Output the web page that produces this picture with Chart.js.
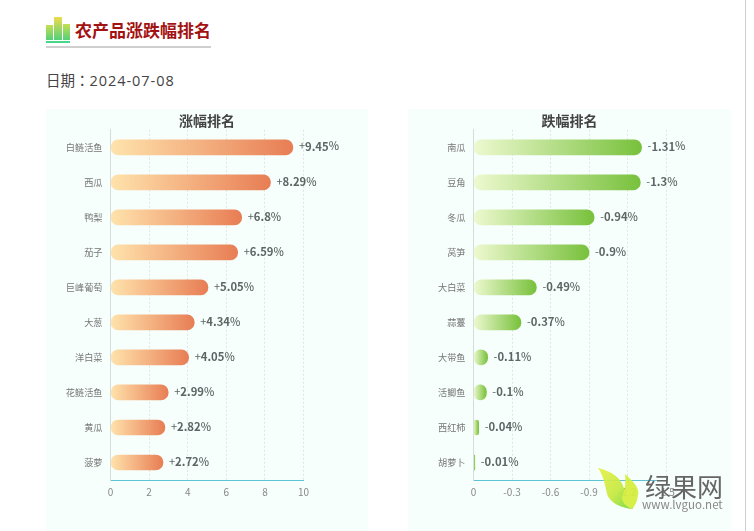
<!DOCTYPE html>
<html><head><meta charset="utf-8">
<script src="https://cdn.jsdelivr.net/npm/chart.js@4"></script>
<style>
html,body{margin:0;padding:0;background:#fff;width:754px;height:531px;overflow:hidden;font-family:"Noto Sans CJK SC",sans-serif}
.abs{position:absolute}
.panel{position:absolute;top:109px;width:322px;height:422px;background:#f6fffc}
</style></head><body>
<div class="abs" style="left:46px;top:17px;width:24px;height:26px">
 <div class="abs" style="left:0;top:8px;width:7px;height:15px;background:linear-gradient(#c4e04f,#55d07a)"></div>
 <div class="abs" style="left:8px;top:0;width:8px;height:23px;background:linear-gradient(#ecdc4f,#55d07a)"></div>
 <div class="abs" style="left:17px;top:7px;width:7px;height:16px;background:linear-gradient(#c4e04f,#55d07a)"></div>
 <div class="abs" style="left:0;top:24px;width:24px;height:2px;background:#45d88a"></div>
</div>
<div class="abs" style="left:75px;top:17px;font-size:17px;font-weight:700;color:#a31212;line-height:26px;white-space:nowrap">农产品涨跌幅排名</div>
<div class="abs" style="left:46px;top:46px;width:165px;height:2px;background:#cfcfcf"></div>
<div class="abs" style="left:46px;top:69px;font-size:14.5px;color:#444;line-height:22px;white-space:nowrap;font-family:'Open Sans','Noto Sans CJK SC',sans-serif"><span style="font-family:'Noto Sans CJK SC'">日期</span><span style="font-family:'Noto Sans CJK TC'">：</span><span style="letter-spacing:.95px">2024-07-08</span></div>
<div class="panel" style="left:46px"></div>
<div class="panel" style="left:408px;width:323px"></div>
<canvas id="up" class="abs" style="left:46px;top:109px"></canvas>
<canvas id="down" class="abs" style="left:408px;top:109px"></canvas>
<div class="abs" style="left:745px;top:0;width:1px;height:531px;background:#cfcfcf"></div>
<svg class="abs" style="left:595px;top:464px;opacity:.93" width="50" height="56" viewBox="0 0 50 56">
 <defs><linearGradient id="lf" x1="0" y1="0" x2="1" y2="1"><stop offset="0" stop-color="#e6f04a"/><stop offset=".55" stop-color="#c6ea40"/><stop offset="1" stop-color="#6fd63f"/></linearGradient></defs>
 <path d="M3 4 C16 7 27 14 29 25 C32 33 36 38 38 45 C26 44 15 39 12 30 C10 20 8 11 3 4Z" fill="url(#lf)"/>
 <path d="M30 10 C38 17 45 24 43 31 C42 38 40 42 37 45 C30 42 27 38 27 33 C30 26 31 18 30 10Z" fill="#d6ee3c"/>
</svg>
<div class="abs" style="left:645px;top:468px;font-size:26px;color:#666;line-height:36px;white-space:nowrap">绿果网</div>
<div class="abs" style="left:642px;top:497px;font-size:11.5px;color:#888;line-height:14px;white-space:nowrap">www.lvguo.net</div>
<script>
const upLabels=["白鲢活鱼","西瓜","鸭梨","茄子","巨峰葡萄","大葱","洋白菜","花鲢活鱼","黄瓜","菠萝"];
const upValues=[9.45,8.29,6.8,6.59,5.05,4.34,4.05,2.99,2.82,2.72];
const upTicks=[0,2,4,6,8,10];
const downLabels=["南瓜","豆角","冬瓜","莴笋","大白菜","蒜薹","大带鱼","活鲫鱼","西红柿","胡萝卜"];
const downValues=[-1.31,-1.3,-0.94,-0.9,-0.49,-0.37,-0.11,-0.1,-0.04,-0.01];
const downTicks=[0,-0.3,-0.6,-0.9,-1.2,-1.5];

const FONT='"Noto Sans CJK SC",sans-serif';
const valueLabels={id:'valueLabels',afterDatasetsDraw(c){
  const ctx=c.ctx,meta=c.getDatasetMeta(0),vals=c.data.datasets[0].data;
  ctx.save();ctx.textBaseline='middle';ctx.textAlign='left';
  meta.data.forEach((el,i)=>{
    const v=vals[i];let x=el.x+6;
    const sign=v>0?'+':'-';
    const num=String(Math.abs(v));
    ctx.fillStyle='#5f6565';
    ctx.font='400 11px '+FONT;
    ctx.fillText(sign,x,el.y-1);x+=ctx.measureText(sign).width;
    ctx.font='700 11.3px '+FONT;
    ctx.fillText(num,x,el.y-1);x+=ctx.measureText(num).width;
    ctx.font='500 11px '+FONT;
    ctx.fillText('%',x,el.y-1);
  });
  ctx.restore();
}};
function build(id,w,leftW,rightW,labels,values,ticks,title,c0,c1,rev,lo,hi){
  const cv=document.getElementById(id);cv.width=w;cv.height=422;
  cv.style.width=w+'px';cv.style.height='422px';
  new Chart(cv,{type:'bar',plugins:[valueLabels],
   data:{labels,datasets:[{data:values,barThickness:15,borderRadius:7.5,borderSkipped:false,
     backgroundColor(ctx){
       const ch=ctx.chart;if(!ch.chartArea||ctx.raw===undefined)return c1;
       const s=ch.scales.x,g=ch.ctx.createLinearGradient(s.getPixelForValue(0),0,s.getPixelForValue(ctx.raw),0);
       g.addColorStop(0,c0);g.addColorStop(1,c1);return g;
     }}]},
   options:{indexAxis:'y',responsive:false,animation:false,
    plugins:{legend:{display:false},tooltip:{enabled:false},
      title:{display:true,text:title,color:'#444',font:{family:FONT,size:14,weight:'700'},padding:{top:3,bottom:1}}},
    scales:{
      x:{min:lo,max:hi,reverse:rev,afterBuildTicks(a){a.ticks=ticks.map(v=>({value:v}));},
         afterFit(s){s.height=51;},
         grid:{color:'#dfe5e5',drawTicks:false},
         border:{color:'#5cc4d4',width:1,dash:[2,2]},
         ticks:{color:'#888',font:{family:FONT,size:10},padding:6,maxRotation:0,callback:v=>String(v)}},
      y:{afterFit(s){s.width=leftW;},grid:{display:false,drawTicks:false},
         border:{color:'#d5dcdc'},
         ticks:{color:'#777',font:{family:FONT,size:9.2},padding:8}},
      spacer:{type:'category',axis:'y',position:'right',afterFit(s){s.width=rightW;},
         grid:{display:false,drawTicks:false},border:{display:false},ticks:{display:false}}
    }}});
}
build('up',322,64.5,64.5,upLabels,upValues,upTicks,'涨幅排名','#ffe3ac','#e87d54',false,0,10);
build('down',323,65.5,65,downLabels,downValues,downTicks,'跌幅排名','#eef9d0','#78c13c',true,-1.5,0);
</script>
</body></html>
